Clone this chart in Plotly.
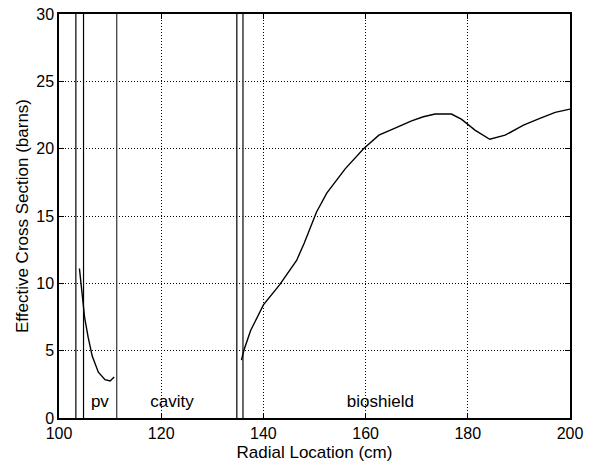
import plotly.graph_objects as go

# pv region curve
pv_x = [104.0, 104.5, 105.0, 105.7, 106.5, 107.7, 109.0, 110.0, 110.8]
pv_y = [11.1, 9.5, 7.5, 6.0, 4.6, 3.4, 2.85, 2.75, 3.05]

# bioshield region curve
bio_x = [135.7, 136.2, 137.5, 140.0, 143.2, 146.5, 148.0, 150.4, 152.4, 156.0, 159.6,
         162.6, 166.1, 169.0, 171.3, 173.6, 176.8, 178.8, 181.4, 184.3, 187.3, 190.9,
         194.1, 197.1, 200.0]
bio_y = [4.3, 5.05, 6.5, 8.4, 9.9, 11.7, 13.0, 15.3, 16.7, 18.5, 20.0,
         21.0, 21.58, 22.07, 22.37, 22.57, 22.57, 22.17, 21.38, 20.7, 21.0, 21.75,
         22.25, 22.7, 22.94]

# region boundaries
boundaries = [103.3, 104.8, 111.3, 134.8, 136.0]
boundary_colors = ["#000000", "#000000", "#333333", "#000000", "#444444"]
boundary_widths = [1.2, 1.2, 1.2, 1.2, 1.6]

region_labels = ["pv", "cavity", "bioshield"]
label_x = [108.0, 122.1, 162.9]
label_y = [1.1, 1.1, 1.1]

xticks = [100, 120, 140, 160, 180, 200]
yticks = [0, 5, 10, 15, 20, 25, 30]

FONT = "Liberation Sans, Arial"

fig = go.Figure()
for bx, bc, bw in zip(boundaries, boundary_colors, boundary_widths):
    fig.add_trace(go.Scatter(x=[bx, bx], y=[0, 30], mode="lines",
                             line=dict(color=bc, width=bw), showlegend=False, hoverinfo="skip"))
fig.add_trace(go.Scatter(x=pv_x, y=pv_y, mode="lines", line=dict(color="black", width=1.4),
                         showlegend=False))
fig.add_trace(go.Scatter(x=bio_x, y=bio_y, mode="lines", line=dict(color="black", width=1.4),
                         showlegend=False))
fig.add_trace(go.Scatter(x=label_x, y=label_y, mode="text", text=region_labels,
                         textfont=dict(family=FONT, size=17, color="black"),
                         textposition="middle center", showlegend=False, hoverinfo="skip"))

axis_common = dict(
    showline=True, linecolor="black", linewidth=1.5, mirror="ticks",
    ticks="inside", ticklen=5, tickcolor="black",
    showgrid=True, gridcolor="black", griddash="1px,2px", gridwidth=1,
    zeroline=False,
    tickfont=dict(family=FONT, size=16, color="black"),
)
fig.update_xaxes(range=[100, 200], tickvals=xticks, ticktext=[str(t) for t in xticks],
                 title=dict(text="Radial Location (cm)", standoff=5,
                            font=dict(family=FONT, size=17, color="black")),
                 **axis_common)
fig.update_yaxes(range=[0, 30], tickvals=yticks, ticktext=[str(t) for t in yticks],
                 title=dict(text="Effective Cross Section (barns)", standoff=3,
                            font=dict(family=FONT, size=17, color="black")),
                 **axis_common)
fig.update_layout(width=592, height=467, plot_bgcolor="white", paper_bgcolor="white",
                  margin=dict(l=59, r=22, t=14, b=49, autoexpand=False))
fig.write_html("out.html", config={"displayModeBar": False},
               post_script="document.body.style.margin='0';document.body.style.overflow='hidden';")
